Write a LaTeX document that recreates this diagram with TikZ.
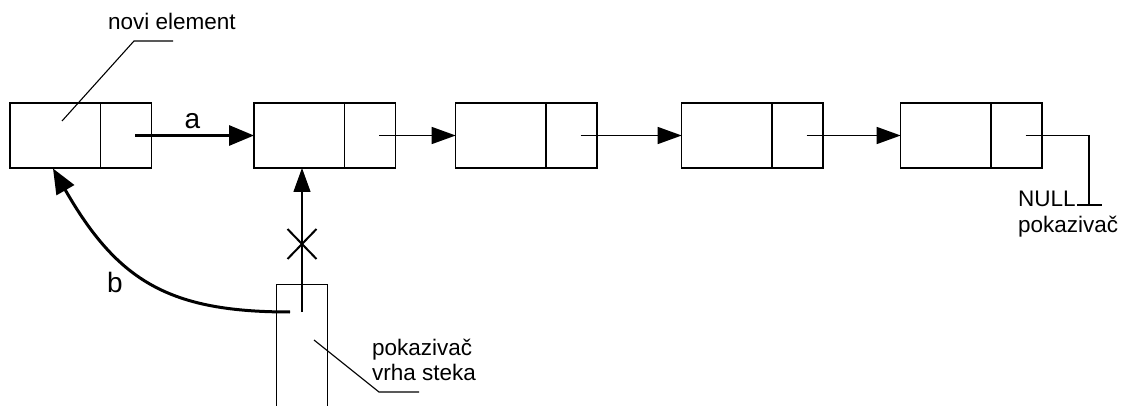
\documentclass[tikz,border=0pt]{standalone}
\usepackage{fontspec}
\setmainfont{Liberation Sans}
\usetikzlibrary{arrows.meta,calc}

\begin{document}
\begin{tikzpicture}[x=1pt,y=-1pt,
  datacell/.style={draw, line width=1.5pt, minimum width=90.5pt, minimum height=65pt,
                   inner sep=0pt, outer sep=0pt, anchor=north west},
  ptrcell/.style={draw, line width=1.5pt, minimum width=51pt, minimum height=65pt,
                  inner sep=0pt, outer sep=0pt, anchor=west},
  link/.style={line width=1.3pt, -{Triangle[length=24pt,width=17pt]}},
  boldlink/.style={line width=3pt, -{Triangle[length=25pt,width=20pt]}},
  leader/.style={line width=1.1pt},
  label/.style={inner sep=0pt, anchor=base west, font=\fontsize{22.5}{26}\selectfont},
  biglabel/.style={inner sep=0pt, anchor=base, font=\fontsize{28}{32}\selectfont}]

\useasboundingbox (0,0) rectangle (1122,406);
\clip (0,0) rectangle (1122,406);

% list elements: data cell + pointer cell
\foreach \i/\x in {1/10, 2/254, 3/455.7, 4/681.7, 5/900.7} {
  \node[datacell] (d\i) at (\x,103) {};
  \node[ptrcell] (p\i) at (d\i.east) {};
}

% pointer fields
\coordinate (s1) at ($(p1.center)+(9,0)$);
\coordinate (s2) at ($(p2.center)+(9,0)$);
\coordinate (s3) at ($(p3.center)+(9,0)$);
\coordinate (s4) at ($(p4.center)+(9,0)$);
\coordinate (s5) at ($(p5.center)+(9,0)$);

\draw[boldlink] (s1) -- (d2.west) node[biglabel, midway, above=5pt, xshift=-2pt] {a};
\draw[link] (s2) -- (d3.west);
\draw[link] (s3) -- (d4.west);
\draw[link] (s4) -- (d5.west);

% NULL pointer with ground symbol
\coordinate (gnd) at (1089,205);
\draw[line width=1.3pt] (s5) -| (gnd);
\draw[line width=1.3pt] ($(gnd)+(-12,0)$) -- ($(gnd)+(13,0)$);
\node[label] (null) at (1018,207) {NULL};
\node[label] (nullptr) at (1018,233) {pokazivač};

% stack top pointer
\node[draw, line width=1pt, minimum width=51pt, minimum height=160pt,
      inner sep=0pt, outer sep=0pt, anchor=north west] (stk) at (276,284) {};
\coordinate (stkp) at (302,312);
\coordinate (d2in) at (302,168);
\draw[link] (stkp) -- (d2in);

% crossed out old link
\coordinate (cx) at (302,244);
\draw[line width=2pt] ($(cx)+(-14.5,-15)$) -- ($(cx)+(14.5,15)$);
\draw[line width=2pt] ($(cx)+(-14.5,15)$) -- ($(cx)+(14.5,-15)$);

% new link from stack top to the new element
\coordinate (stkb) at (290,312);
\coordinate (d1in) at (53,168.5);
\draw[line width=3pt, -{Triangle[length=25pt,width=20pt]}]
  (stkb) .. controls (170,312) and (118,282) .. (d1in);
\node[biglabel] (b) at (115,292) {b};

% annotations
\node[label] (novi) at (108,30) {novi element};
\draw[leader] (173,41) -- (134,41) -- (62,121);

\node[label] (vrh1) at (372,355) {pokazivač};
\node[label] (vrh2) at (372,380) {vrha steka};
\draw[leader] (314,340) -- (379,392) -- (419,392);

\end{tikzpicture}
\end{document}
